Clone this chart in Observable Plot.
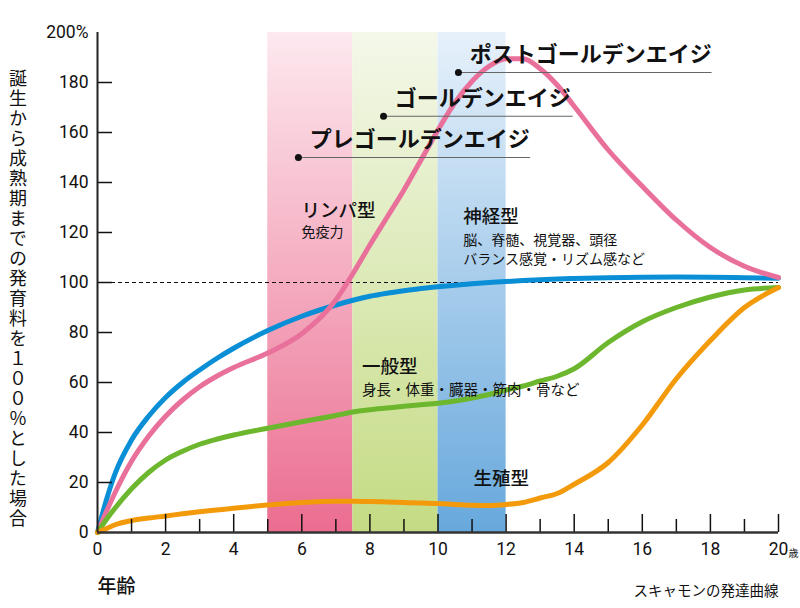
<!DOCTYPE html>
<html><head><meta charset="utf-8">
<script src="https://cdn.jsdelivr.net/npm/d3@7"></script>
<script src="https://cdn.jsdelivr.net/npm/@observablehq/plot@0.6"></script>
<style>
html,body{margin:0;padding:0;background:#fff;}
#wrap{position:relative;width:800px;height:608px;overflow:hidden;}
#wrap svg{position:absolute;left:0;top:0;}
#ylab{position:absolute;left:9px;top:69px;writing-mode:vertical-rl;text-orientation:upright;font-family:"Noto Sans CJK JP";font-size:18px;line-height:18px;letter-spacing:2px;color:#111;z-index:2;}
</style></head><body>
<div id="wrap"><div id="ylab">誕生から成熟期までの発育料を１００％とした場合</div></div>
<script>
// ---- data ----
const ages         = [0, 0.25, 0.5, 1, 1.5, 2, 2.5, 3, 3.5, 4, 5, 6, 7, 7.5, 8, 8.5, 9, 9.5, 10, 10.5, 11, 11.5, 12, 12.5, 13, 13.5, 14, 15, 16, 17, 18, 19, 20];
const neural       = [0, 12.5, 23, 37, 46.5, 54, 60, 65, 69.6, 73.7, 80.8, 86.5, 91, 92.9, 94.5, 95.7, 96.7, 97.6, 98.3, 98.9, 99.5, 100, 100.4, 100.8, 101.1, 101.4, 101.6, 101.9, 102.1, 102.2, 102.1, 101.9, 101.7];
const lymphoid     = [0, 8, 15.5, 28.5, 38.5, 46.5, 53, 58.3, 62.5, 66, 71.8, 79.5, 93, 103.5, 115, 126, 137, 149, 161, 172, 180.5, 186.5, 189.5, 189.5, 185.5, 179, 170.5, 153, 138.5, 125, 114, 106.5, 102];
const general      = [0, 5, 9.5, 17.5, 24, 29, 32.5, 35.3, 37.3, 39, 41.7, 44.3, 46.8, 48.2, 49.1, 49.8, 50.5, 51.1, 51.7, 52.6, 53.8, 55.2, 57, 58.6, 60.6, 62.5, 65.5, 76, 84.3, 90, 94.2, 97, 98];
const reproductive = [0, 1.5, 3, 4.8, 5.8, 6.6, 7.5, 8.3, 9, 9.7, 11, 12, 12.5, 12.5, 12.4, 12.2, 12, 11.8, 11.6, 11.2, 10.9, 10.8, 11.2, 12, 13.8, 15.6, 19.3, 28, 43, 61.5, 76.8, 90, 98];

const yTicks      = [0, 20, 40, 60, 80, 100, 120, 140, 160, 180, 200];
const xLabelTicks = [0, 2, 4, 6, 8, 10, 12, 14, 16, 18, 20];
const xMajorTicks = [2, 4, 6, 8, 10, 12, 14, 16, 18, 20];
const xMinorTicks = [1, 3, 5, 7, 9, 11, 13, 15, 17, 19];

const bandStart = [5, 7.5, 10];
const bandEnd   = [7.5, 10, 12];

const goldenLabels  = ["プレゴールデンエイジ", "ゴールデンエイジ", "ポストゴールデンエイジ"];
const goldenAge     = [5.9, 8.4, 10.6];
const goldenLevel   = [150, 166.5, 184];
const goldenLineEnd = [12.72, 13.97, 18.05];

const typeTitles = ["リンパ型", "神経型", "一般型", "生殖型"];
const typeNotes  = ["免疫力", "脳、脊髄、視覚器、頭径", "バランス感覚・リズム感など", "身長・体重・臓器・筋肉・骨など"];

// ---- styles ----
const colors = {neural: "#0a8fd6", lymphoid: "#e9709b", general: "#6cb72e", reproductive: "#f39a0b"};
const grads = [
  ["g-pink",  "#fde9ef", "#eb6d90"],
  ["g-green", "#f4f8ea", "#c4db83"],
  ["g-blue",  "#e7f1fb", "#67a8dc"]
];
const jp = "'Noto Sans CJK JP', sans-serif";
const num = "Roboto, 'DejaVu Sans Condensed', sans-serif";

const series = (vals) => ages.map((a, i) => ({age: a, v: vals[i]}));
const golden = goldenLabels.map((t, i) => ({t, x: goldenAge[i], y: goldenLevel[i], x2: goldenLineEnd[i]}));

function gradientDefs() {
  const ns = "http://www.w3.org/2000/svg";
  const defs = document.createElementNS(ns, "defs");
  for (const [id, top, bottom] of grads) {
    const g = document.createElementNS(ns, "linearGradient");
    g.setAttribute("id", id);
    g.setAttribute("x1", "0"); g.setAttribute("y1", "0");
    g.setAttribute("x2", "0"); g.setAttribute("y2", "1");
    for (const [off, c] of [["0", top], ["1", bottom]]) {
      const s = document.createElementNS(ns, "stop");
      s.setAttribute("offset", off); s.setAttribute("stop-color", c);
      g.appendChild(s);
    }
    defs.appendChild(g);
  }
  return defs;
}

const lineOpts = {x: "age", y: "v", strokeWidth: 5, curve: "monotone-x"};

const chart = Plot.plot({
  width: 800, height: 608,
  marginLeft: 97, marginRight: 22, marginTop: 32, marginBottom: 76,
  x: {domain: [0, 20], axis: null},
  y: {domain: [0, 200], axis: null},
  style: {fontFamily: jp, background: "transparent", overflow: "visible"},
  marks: [
    gradientDefs,
    ...bandStart.map((s, i) => Plot.rect([0], {x1: bandStart[i], x2: bandEnd[i], y1: 0, y2: 200, fill: `url(#${grads[i][0]})`})),
    Plot.ruleY([100], {stroke: "#111", strokeWidth: 1.2, strokeDasharray: "4,3"}),
    Plot.line(series(neural), {...lineOpts, stroke: colors.neural}),
    Plot.line(series(lymphoid), {...lineOpts, stroke: colors.lymphoid}),
    Plot.line(series(general), {...lineOpts, stroke: colors.general}),
    Plot.line(series(reproductive), {...lineOpts, stroke: colors.reproductive}),
    // axes
    Plot.tickX(xMajorTicks, {x: d => d, stroke: "#111", strokeWidth: 1.5, insetTop: 500 - 18}),
    Plot.tickX(xMinorTicks, {x: d => d, stroke: "#111", strokeWidth: 1.5, insetTop: 500 - 13}),
    Plot.tickY(yTicks.filter(d => d > 0 && d < 200), {y: d => d, stroke: "#111", strokeWidth: 1.5, insetRight: 681 - 15}),
    Plot.ruleX([0], {stroke: "#222", strokeWidth: 2}),
    Plot.ruleY([0], {stroke: "#333", strokeWidth: 2.5}),
    Plot.text(yTicks, {x: 0, y: d => d, text: d => d === 200 ? "200%" : String(d), dx: -9, textAnchor: "end", fontSize: 17.5, fontFamily: num, fill: "#111"}),
    Plot.text(xLabelTicks, {x: d => d, y: 0, text: d => String(d), dy: 17, fontSize: 17.5, fontFamily: num, fill: "#111"}),
    Plot.text(["歳"], {x: 20, y: 0, dx: 10, dy: 21, textAnchor: "start", fontSize: 10, fill: "#111"}),
    // golden age markers
    Plot.ruleY(golden, {x1: "x", x2: "x2", y: "y", stroke: "#666", strokeWidth: 1.2}),
    Plot.dot(golden, {x: "x", y: "y", r: 3.5, fill: "#111"}),
    Plot.text(golden, {x: d => d.x + 0.33, y: d => d.y + 7, text: "t", textAnchor: "start", fontSize: 22, fontWeight: 700, fill: "#111"}),
    // type labels
    Plot.text([typeTitles[0]], {x: 5.99, y: 128.7, text: d => d, textAnchor: "start", fontSize: 18.5, fontWeight: 500, fill: "#111"}),
    Plot.text([typeNotes[0]], {x: 5.99, y: 119.9, text: d => d, textAnchor: "start", fontSize: 14, fill: "#111"}),
    Plot.text([typeTitles[1]], {x: 10.74, y: 126.3, text: d => d, textAnchor: "start", fontSize: 18.5, fontWeight: 500, fill: "#111"}),
    Plot.text([typeNotes[1]], {x: 10.74, y: 116.9, text: d => d, textAnchor: "start", fontSize: 14, fill: "#111"}),
    Plot.text([typeNotes[2]], {x: 10.74, y: 109.1, text: d => d, textAnchor: "start", fontSize: 14, fill: "#111"}),
    Plot.text([typeTitles[2]], {x: 7.77, y: 66.3, text: d => d, textAnchor: "start", fontSize: 18.5, fontWeight: 500, fill: "#111"}),
    Plot.text([typeNotes[3]], {x: 7.77, y: 56.7, text: d => d, textAnchor: "start", fontSize: 14.5, fill: "#111"}),
    Plot.text([typeTitles[3]], {x: 11.04, y: 21.3, text: d => d, textAnchor: "start", fontSize: 18.5, fontWeight: 500, fill: "#111"}),
    // bottom captions
    Plot.text(["年齢"], {frameAnchor: "bottom-left", dx: 0, dy: 60, textAnchor: "start", fontSize: 19, fontWeight: 500, fill: "#111"}),
    Plot.text(["スキャモンの発達曲線"], {frameAnchor: "bottom-right", dx: 0, dy: 63, textAnchor: "end", fontSize: 14.5, fill: "#111"})
  ]
});
document.getElementById("wrap").appendChild(chart);
</script>
</body></html>
